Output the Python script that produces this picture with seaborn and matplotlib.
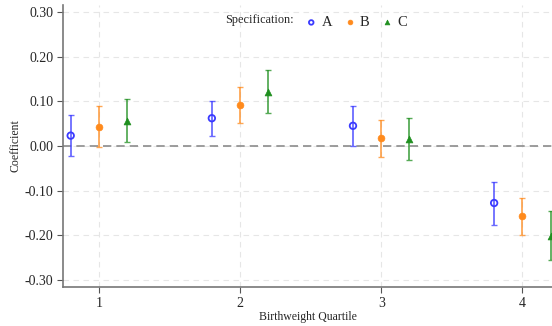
import matplotlib
matplotlib.use("Agg")
import matplotlib.pyplot as plt
import numpy as np
import pandas as pd
import seaborn as sns

# valores (coeficiente e intervalo)
quartiles = [1, 2, 3, 4]
specs = ["A", "B", "C"]
coef_A = [0.023, 0.062, 0.045, -0.128]
low_A = [-0.023, 0.023, -0.001, -0.177]
high_A = [0.070, 0.101, 0.090, -0.081]
coef_B = [0.043, 0.091, 0.017, -0.157]
low_B = [-0.002, 0.051, -0.024, -0.199]
high_B = [0.089, 0.131, 0.058, -0.116]
coef_C = [0.056, 0.120, 0.016, -0.203]
low_C = [0.008, 0.073, -0.031, -0.255]
high_C = [0.105, 0.169, 0.062, -0.147]
yticks = [-0.30, -0.20, -0.10, 0.00, 0.10, 0.20, 0.30]

filas = []
for s, c, lo, hi in zip(specs, [coef_A, coef_B, coef_C], [low_A, low_B, low_C], [high_A, high_B, high_C]):
    for q, v, l, h in zip(quartiles, c, lo, hi):
        filas.append({"Quartile": q, "Spec": s, "Coef": v, "Low": l, "High": h})
df = pd.DataFrame(filas)

offset = {"A": -0.2, "B": 0.0, "C": 0.2}
colores = {"A": "#3a3aff", "B": "#ff8a1c", "C": "#1f8f1f"}
marcadores = {"A": "o", "B": "o", "C": "^"}
df["x"] = df["Quartile"] + df["Spec"].map(offset)

sns.set_style("white")
plt.rcParams["font.family"] = ["Liberation Serif", "DejaVu Serif"]

fig = plt.figure(figsize=(5.52, 3.26), dpi=100)
ax = fig.add_axes([0.114, 0.12, 0.886, 0.865])

# lineas de cuadricula punteadas
for yt in yticks:
    ax.axhline(yt, color="#e6e6e6", lw=0.8, ls=(0, (5, 4)), zorder=0)
for q in quartiles:
    ax.axvline(q, color="#e6e6e6", lw=0.8, ls=(0, (5, 4)), zorder=0)
ax.axhline(0, color="#8c8c8c", lw=1.2, ls=(0, (5, 3)), zorder=1)

for s in specs:
    d = df[df["Spec"] == s]
    ax.errorbar(d["x"], d["Coef"], yerr=[d["Coef"] - d["Low"], d["High"] - d["Coef"]],
                fmt="none", ecolor=colores[s], elinewidth=1.3, capsize=2.5, capthick=1.0,
                alpha=0.75, zorder=2)
    if s == "A":
        sns.scatterplot(data=d, x="x", y="Coef", ax=ax, marker="o", s=22,
                        facecolors="none", edgecolor=colores[s], linewidth=1.3,
                        label=s, zorder=3)
    else:
        sns.scatterplot(data=d, x="x", y="Coef", ax=ax, marker=marcadores[s], s=24,
                        color=colores[s], edgecolor=colores[s], linewidth=0.5,
                        label=s, zorder=3)

ax.set_xlim(0.745, 4.21)
ax.set_ylim(-0.316, 0.316)
ax.set_xticks(quartiles)
ax.set_xticklabels([str(q) for q in quartiles])
ax.set_yticks(yticks)
ax.set_yticklabels([f"{v:.2f}" for v in yticks])
ax.tick_params(axis="both", labelsize=10, length=4, width=0.8, color="#555555",
               direction="out", left=True, bottom=True, pad=3)
ax.set_xlabel("Birthweight Quartile", fontsize=8.5)
ax.set_ylabel("Coefficient", fontsize=8.5, labelpad=2)
ax.xaxis.set_label_coords(0.5, -0.085)
for lado in ["top", "right"]:
    ax.spines[lado].set_visible(False)
for lado in ["left", "bottom"]:
    ax.spines[lado].set_color("#777777")
    ax.spines[lado].set_linewidth(1.2)

leg = ax.legend(loc="center left", bbox_to_anchor=(0.46, 0.937), ncol=3, frameon=False,
                fontsize=10.5, handlelength=1.4, handletextpad=0.0, columnspacing=0.5,
                markerscale=0.7)
fig.text(0.407, 0.938, "Specification:", fontsize=8.8, va="center", ha="left")

fig.savefig("out.png", dpi=100)
